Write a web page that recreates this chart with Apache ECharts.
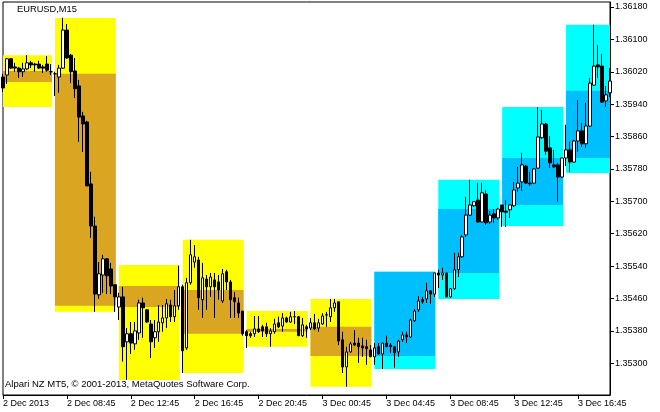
<!DOCTYPE html>
<html><head><meta charset="utf-8">
<script src="https://cdn.jsdelivr.net/npm/echarts@6/dist/echarts.min.js"></script>
<style>html,body{margin:0;padding:0;background:#fff}#c{width:660px;height:412px}</style>
</head><body><div id="c"></div>
<script>
// ---- data (EURUSD M15, 2 Dec 2013 04:45 .. 3 Dec 2013 18:45) ----
const startTime = Date.UTC(2013, 11, 2, 4, 45);
const barCount = 153;
const tickLabels = ["2 Dec 2013","2 Dec 08:45","2 Dec 12:45","2 Dec 16:45","2 Dec 20:45","3 Dec 00:45","3 Dec 04:45","3 Dec 08:45","3 Dec 12:45","3 Dec 16:45"];
const yTicks = [1.35300,1.35380,1.35460,1.35540,1.35620,1.35700,1.35780,1.35860,1.35940,1.36020,1.36100,1.36180];

const openP = [1.36007,1.36012,1.36052,1.36032,1.36029,1.36020,1.36027,1.36042,1.36039,1.36039,
1.36032,1.36039,1.36020,1.36015,1.36007,1.36029,1.36123,1.36061,1.36022,1.35985,
1.35911,1.35896,1.35743,1.35639,1.35469,1.35518,1.35558,1.35533,1.35494,1.35439,
1.35464,1.35353,1.35373,1.35348,1.35375,1.35449,1.35432,1.35397,1.35363,1.35378,
1.35400,1.35412,1.35444,1.35415,1.35442,1.35489,1.35338,1.35499,1.35550,1.35555,
1.35457,1.35508,1.35489,1.35506,1.35501,1.35454,1.35526,1.35501,1.35462,1.35449,
1.35429,1.35378,1.35373,1.35373,1.35385,1.35390,1.35390,1.35373,1.35378,1.35400,
1.35392,1.35412,1.35402,1.35415,1.35415,1.35368,1.35390,1.35387,1.35400,1.35387,
1.35397,1.35420,1.35415,1.35437,1.35452,1.35358,1.35291,1.35328,1.35350,1.35350,
1.35343,1.35341,1.35333,1.35316,1.35341,1.35323,1.35350,1.35345,1.35341,1.35328,
1.35358,1.35370,1.35365,1.35405,1.35432,1.35457,1.35459,1.35479,1.35471,1.35523,
1.35518,1.35523,1.35464,1.35484,1.35531,1.35563,1.35617,1.35666,1.35689,1.35703,
1.35649,1.35718,1.35649,1.35669,1.35659,1.35691,1.35676,1.35679,1.35689,1.35733,
1.35748,1.35787,1.35745,1.35745,1.35782,1.35857,1.35891,1.35832,1.35790,1.35790,
1.35760,1.35807,1.35827,1.35797,1.35849,1.35874,1.35842,1.35886,1.35987,1.36037,
1.36034,1.35948,1.35968];
const highP = [1.36015,1.36054,1.36054,1.36042,1.36032,1.36042,1.36061,1.36047,1.36042,1.36047,
1.36037,1.36059,1.36039,1.36020,1.36037,1.36153,1.36138,1.36064,1.36054,1.36000,
1.35921,1.35899,1.35773,1.35662,1.35550,1.35568,1.35560,1.35548,1.35494,1.35474,
1.35489,1.35387,1.35402,1.35402,1.35457,1.35462,1.35434,1.35407,1.35407,1.35444,
1.35444,1.35459,1.35457,1.35481,1.35541,1.35494,1.35511,1.35605,1.35592,1.35563,
1.35548,1.35518,1.35523,1.35523,1.35518,1.35533,1.35531,1.35506,1.35476,1.35462,
1.35429,1.35382,1.35378,1.35417,1.35417,1.35395,1.35400,1.35387,1.35410,1.35415,
1.35424,1.35415,1.35427,1.35429,1.35417,1.35412,1.35395,1.35412,1.35422,1.35410,
1.35424,1.35427,1.35459,1.35459,1.35452,1.35378,1.35341,1.35353,1.35382,1.35363,
1.35363,1.35358,1.35345,1.35350,1.35350,1.35350,1.35368,1.35350,1.35341,1.35358,
1.35378,1.35378,1.35410,1.35434,1.35466,1.35464,1.35499,1.35481,1.35523,1.35531,
1.35536,1.35523,1.35486,1.35573,1.35573,1.35617,1.35711,1.35753,1.35699,1.35745,
1.35745,1.35728,1.35676,1.35681,1.35684,1.35691,1.35703,1.35691,1.35748,1.35785,
1.35820,1.35790,1.35773,1.35782,1.35933,1.35926,1.35894,1.35861,1.35827,1.35795,
1.35807,1.35889,1.35847,1.35852,1.35950,1.35894,1.35943,1.36005,1.36136,1.36086,
1.36064,1.35985,1.36029];
const lowP = [1.35970,1.35990,1.36027,1.36020,1.36005,1.36007,1.36024,1.36029,1.36020,1.36027,
1.36017,1.36020,1.36012,1.35960,1.35968,1.36027,1.36052,1.35992,1.35955,1.35847,
1.35822,1.35738,1.35610,1.35427,1.35459,1.35474,1.35471,1.35471,1.35427,1.35407,
1.35304,1.35259,1.35323,1.35333,1.35358,1.35363,1.35400,1.35313,1.35338,1.35353,
1.35378,1.35387,1.35402,1.35402,1.35432,1.35276,1.35333,1.35494,1.35536,1.35432,
1.35412,1.35432,1.35464,1.35412,1.35457,1.35449,1.35481,1.35412,1.35412,1.35412,
1.35368,1.35338,1.35363,1.35365,1.35375,1.35365,1.35365,1.35341,1.35373,1.35387,
1.35378,1.35400,1.35400,1.35397,1.35368,1.35365,1.35363,1.35382,1.35382,1.35378,
1.35395,1.35390,1.35402,1.35427,1.35345,1.35276,1.35242,1.35326,1.35343,1.35301,
1.35316,1.35296,1.35316,1.35296,1.35321,1.35286,1.35341,1.35326,1.35289,1.35316,
1.35353,1.35350,1.35363,1.35402,1.35427,1.35447,1.35449,1.35447,1.35464,1.35486,
1.35506,1.35464,1.35462,1.35481,1.35513,1.35560,1.35612,1.35664,1.35686,1.35647,
1.35647,1.35642,1.35644,1.35647,1.35654,1.35637,1.35637,1.35659,1.35686,1.35723,
1.35726,1.35743,1.35738,1.35743,1.35780,1.35854,1.35815,1.35782,1.35782,1.35699,
1.35758,1.35787,1.35773,1.35795,1.35822,1.35834,1.35832,1.35884,1.35985,1.36005,
1.35943,1.35933,1.35958];
const closeP = [1.35980,1.36052,1.36029,1.36029,1.36020,1.36027,1.36042,1.36037,1.36037,1.36029,
1.36029,1.36024,1.36020,1.36015,1.36029,1.36123,1.36054,1.36020,1.35978,1.35908,
1.35891,1.35738,1.35639,1.35471,1.35521,1.35558,1.35516,1.35491,1.35464,1.35464,
1.35341,1.35373,1.35350,1.35380,1.35449,1.35437,1.35402,1.35353,1.35378,1.35402,
1.35412,1.35447,1.35415,1.35442,1.35489,1.35331,1.35499,1.35568,1.35563,1.35462,
1.35511,1.35489,1.35513,1.35489,1.35481,1.35521,1.35501,1.35457,1.35452,1.35424,
1.35373,1.35368,1.35368,1.35385,1.35378,1.35380,1.35373,1.35380,1.35397,1.35390,
1.35412,1.35402,1.35415,1.35415,1.35368,1.35395,1.35385,1.35400,1.35385,1.35400,
1.35417,1.35419,1.35437,1.35449,1.35355,1.35291,1.35328,1.35348,1.35345,1.35341,
1.35338,1.35336,1.35316,1.35338,1.35323,1.35350,1.35341,1.35341,1.35326,1.35355,
1.35370,1.35365,1.35407,1.35429,1.35454,1.35452,1.35479,1.35471,1.35523,1.35518,
1.35523,1.35464,1.35484,1.35531,1.35563,1.35612,1.35666,1.35691,1.35699,1.35649,
1.35721,1.35647,1.35666,1.35659,1.35681,1.35674,1.35673,1.35691,1.35728,1.35745,
1.35790,1.35745,1.35743,1.35780,1.35859,1.35891,1.35824,1.35795,1.35785,1.35760,
1.35807,1.35827,1.35797,1.35849,1.35874,1.35842,1.35886,1.35992,1.36034,1.36032,
1.35945,1.35963,1.35997];

// 4-hour boxes: first bar, last bar, high, low, open, close
const boxStart = [0,13,29,45,61,77,93,109,125,141];
const boxEnd   = [12,28,44,60,76,92,108,124,140,152];
const boxHigh  = [1.36061,1.36153,1.35543,1.35605,1.35429,1.35459,1.35526,1.35753,1.35933,1.36136];
const boxLow   = [1.35933,1.35427,1.35259,1.35276,1.35341,1.35242,1.35286,1.35459,1.35639,1.35770];
const boxOpen  = [1.36022,1.36015,1.35491,1.35481,1.35385,1.35390,1.35318,1.35523,1.35691,1.35807];
const boxClose = [1.35995,1.35442,1.35439,1.35373,1.35378,1.35318,1.35526,1.35681,1.35807,1.35973];

// ---- build ----
const categories = [];
for (let i = 0; i < barCount; i++) {
  const d = new Date(startTime + i * 15 * 60000);
  categories.push(d.getUTCDate() + ' ' + String(d.getUTCHours()).padStart(2,'0') + ':' + String(d.getUTCMinutes()).padStart(2,'0'));
}
const candleData = openP.map((o, i) => [o, closeP[i], lowP[i], highP[i]]);
const boxData = boxStart.map((s, i) => [s, boxEnd[i], boxHigh[i], boxLow[i], boxOpen[i], boxClose[i]]);

const FONT = 'Liberation Sans';
const chart = echarts.init(document.getElementById('c'), null, {renderer: 'canvas'});
chart.setOption({
  animation: false,
  backgroundColor: '#ffffff',
  grid: {left: 2, right: 50, top: 2, bottom: 17, show: true, borderColor: '#000', borderWidth: 1, backgroundColor: 'transparent'},
  xAxis: {
    type: 'category', data: categories, boundaryGap: false,
    axisLine: {lineStyle: {color: '#000', width: 1}},
    axisTick: {show: true, length: 4, interval: (i) => i % 16 === 0, lineStyle: {color: '#000'}},
    axisLabel: {interval: (i) => i % 16 === 0, formatter: (v, i) => tickLabels[Math.round(i / 16)],
      align: 'left', margin: 4, color: '#000', fontFamily: FONT, fontSize: 9},
    splitLine: {show: false}
  },
  yAxis: {
    type: 'value', position: 'right', min: 1.352217, max: 1.361923, scale: true,
    axisLine: {show: true, lineStyle: {color: '#000', width: 1}},
    axisTick: {show: true, length: 4, customValues: yTicks, lineStyle: {color: '#000'}},
    axisLabel: {customValues: yTicks, formatter: (v) => v.toFixed(5), margin: 5, color: '#000', fontFamily: FONT, fontSize: 9},
    splitLine: {show: false}
  },
  series: [
    {
      type: 'custom', data: boxData, z: 1, clip: true,
      encode: {x: [0, 1], y: [2, 3]},
      renderItem: (params, api) => {
        const s = api.value(0), e = api.value(1), h = api.value(2), l = api.value(3), o = api.value(4), c = api.value(5);
        const a = api.coord([s, h]), b = api.coord([e, l]);
        const ia = api.coord([s, Math.max(o, c)]), ib = api.coord([e, Math.min(o, c)]);
        const bull = c > o;
        return {type: 'group', children: [
          {type: 'rect', shape: {x: a[0], y: a[1], width: b[0] - a[0] + 1, height: b[1] - a[1]}, style: {fill: bull ? '#00FFFF' : '#FFFF00'}},
          {type: 'rect', shape: {x: ia[0], y: ia[1], width: ib[0] - ia[0] + 1, height: ib[1] - ia[1]}, style: {fill: bull ? '#00BFFF' : '#DAA520'}}
        ]};
      }
    },
    {
      type: 'candlestick', data: candleData, z: 3, barWidth: 3, clip: true,
      itemStyle: {color: '#ffffff', color0: '#000000', borderColor: '#000000', borderColor0: '#000000', borderColorDoji: '#000000', borderWidth: 1}
    }
  ],
  graphic: [
    {type: 'text', left: 17, top: 5, style: {text: 'EURUSD,M15', fill: '#000', font: '9.3px "Liberation Sans"'}, z: 10},
    {type: 'text', left: 5, top: 379, style: {text: 'Alpari NZ MT5, \u00a9 2001-2013, MetaQuotes Software Corp.', fill: '#000', font: '9.5px "Liberation Sans"'}, z: 10}
  ]
});
</script>
</body></html>
